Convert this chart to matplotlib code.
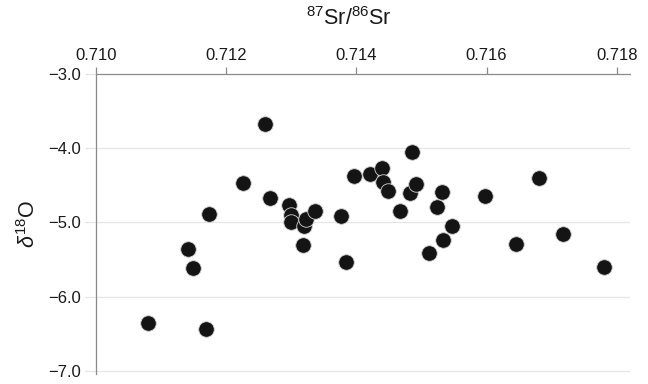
import matplotlib
matplotlib.use("Agg")
import matplotlib.pyplot as plt

plt.rcParams['font.family'] = ['Liberation Sans', 'DejaVu Sans']
plt.rcParams['mathtext.fontset'] = 'custom'
plt.rcParams['mathtext.rm'] = 'Liberation Sans'
plt.rcParams['mathtext.it'] = 'Liberation Sans:italic'

# 87Sr/86Sr ratio and d18O values
sr_ratio = [0.71080, 0.71141, 0.71149, 0.71173, 0.71169, 0.71226, 0.71260,
            0.71268, 0.71297, 0.71299, 0.71300, 0.71320, 0.71322, 0.71318,
            0.71337, 0.71377, 0.71384, 0.71396, 0.71421, 0.71439, 0.71441,
            0.71449, 0.71467, 0.71485, 0.71483, 0.71491, 0.71512, 0.71524,
            0.71531, 0.71533, 0.71547, 0.71598, 0.71645, 0.71680, 0.71717,
            0.71780]
d18o = [-6.35, -5.36, -5.62, -4.89, -6.43, -4.47, -3.67,
        -4.67, -4.76, -4.90, -4.99, -5.05, -4.95, -5.31,
        -4.85, -4.91, -5.53, -4.37, -4.35, -4.27, -4.46,
        -4.58, -4.85, -4.05, -4.60, -4.49, -5.41, -4.79,
        -4.59, -5.24, -5.05, -4.65, -5.29, -4.40, -5.16,
        -5.60]

x_ticks = [0.710, 0.712, 0.714, 0.716, 0.718]
y_ticks = [-3.0, -4.0, -5.0, -6.0, -7.0]

grid_col = '#e6e6e6'
axis_col = '#8a8a8a'

fig = plt.figure(figsize=(6.48, 3.84), dpi=100)
ax = fig.add_axes([0.148, 0.026, 0.824, 0.782])

ax.scatter(sr_ratio, d18o, s=125, color='#141414', edgecolors='#d0d0d0',
           linewidths=0.6, zorder=3)

ax.set_xlim(0.710, 0.7182)
ax.set_ylim(-7.04, -3.0)
ax.xaxis.tick_top()
ax.set_xticks(x_ticks)
ax.set_xticklabels([f"{v:.3f}" for v in x_ticks])
ax.set_yticks(y_ticks)
ax.set_yticklabels([f"\u2212{abs(v):.1f}" for v in y_ticks])

for y in y_ticks[1:]:
    ax.axhline(y, color=grid_col, lw=0.9, zorder=1)

for side in ['bottom', 'right']:
    ax.spines[side].set_visible(False)
for side in ['top', 'left']:
    ax.spines[side].set_color(axis_col)
    ax.spines[side].set_linewidth(0.9)
ax.tick_params(axis='x', colors=axis_col, labelcolor='#1a1a1a',
               labelsize=12, length=5, width=0.9, pad=3)
ax.tick_params(axis='y', colors=grid_col, labelcolor='#1a1a1a',
               labelsize=12, length=8, width=0.9, pad=3)
ax.yaxis.get_major_ticks()[0].tick1line.set_color(axis_col)

fig.text(349 / 648, 1 - 19 / 384, r'$^{87}$Sr/$^{86}$Sr', ha='center',
         va='center', fontsize=15.5, color='#1a1a1a')
ax.set_ylabel(r'$\delta^{18}$O', fontsize=15.5, color='#1a1a1a', labelpad=6)

fig.savefig('out.png', dpi=100)
